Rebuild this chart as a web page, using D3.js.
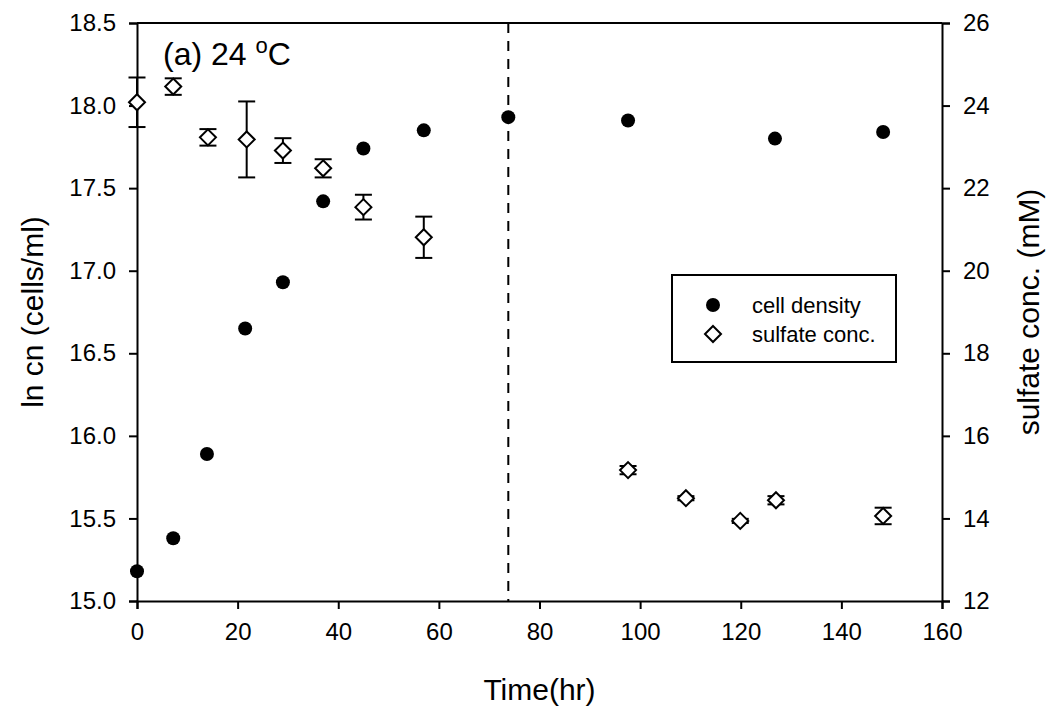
<!DOCTYPE html>
<html>
<head>
<meta charset="utf-8">
<script src="https://cdn.jsdelivr.net/npm/d3@7"></script>
<style>
  body { margin: 0; background: #fff; }
  text { font-family: Arial, "Liberation Sans", sans-serif; fill: #000; }
</style>
</head>
<body>
<div id="chart"></div>
<script>
// cell density (left axis, ln cn)
const cellTime = [0, 7.2, 13.9, 21.5, 29, 37, 45, 57, 73.8, 97.6, 126.8, 148.3];
const cellDensity = [15.18, 15.38, 15.89, 16.65, 16.93, 17.42, 17.74, 17.85, 17.93, 17.91, 17.80, 17.84];

// sulfate concentration (right axis, mM)
const sulfateTime = [0, 7.2, 14.1, 21.8, 29, 37, 45, 57, 97.6, 109.1, 119.9, 127.0, 148.3];
const sulfate = [24.08, 24.46, 23.23, 23.18, 22.91, 22.48, 21.54, 20.81, 15.17, 14.49, 13.94, 14.44, 14.06];
const sulfateErr = [0.6, 0.2, 0.2, 0.92, 0.3, 0.22, 0.3, 0.5, 0.1, 0.05, 0.05, 0.1, 0.2];

const xTicks = [0, 20, 40, 60, 80, 100, 120, 140, 160];
const leftTicks = [15.0, 15.5, 16.0, 16.5, 17.0, 17.5, 18.0, 18.5];
const rightTicks = [12, 14, 16, 18, 20, 22, 24, 26];
const dividerTime = 73.8;

const width = 1054, height = 713;
const margin = { top: 23, right: 112, bottom: 112, left: 137 };

const svg = d3.select("#chart").append("svg")
    .attr("width", width)
    .attr("height", height);

const x = d3.scaleLinear().domain([0, 160]).range([margin.left, width - margin.right]);
const yL = d3.scaleLinear().domain([15, 18.5]).range([height - margin.bottom, margin.top]);
const yR = d3.scaleLinear().domain([12, 26]).range([height - margin.bottom, margin.top]);

// top frame line
svg.append("line")
    .attr("x1", x(0)).attr("x2", x(160))
    .attr("y1", yL(18.5)).attr("y2", yL(18.5))
    .attr("stroke", "#000").attr("stroke-width", 2);

// axes
const xAxis = svg.append("g")
    .attr("transform", `translate(0,${height - margin.bottom})`)
    .call(d3.axisBottom(x).tickValues(xTicks).tickSize(8).tickPadding(14));

const leftAxis = svg.append("g")
    .attr("transform", `translate(${margin.left},0)`)
    .call(d3.axisLeft(yL).tickValues(leftTicks).tickFormat(d3.format(".1f")).tickSize(8).tickPadding(13));

const rightAxis = svg.append("g")
    .attr("transform", `translate(${width - margin.right},0)`)
    .call(d3.axisRight(yR).tickValues(rightTicks).tickSize(8).tickPadding(13));

[xAxis, leftAxis, rightAxis].forEach(g => {
  g.select(".domain").attr("stroke-width", 2);
  g.selectAll(".tick line").attr("stroke-width", 2);
  g.selectAll("text")
      .style("font-family", "Arial, 'Liberation Sans', sans-serif")
      .style("font-size", "24px")
      .attr("fill", "#000");
});

// axis titles
svg.append("text")
    .attr("x", (x(0) + x(160)) / 2)
    .attr("y", 700)
    .attr("text-anchor", "middle")
    .style("font-size", "30px")
    .text("Time(hr)");

svg.append("text")
    .attr("transform", `translate(43,${(yL(15) + yL(18.5)) / 2}) rotate(-90)`)
    .attr("text-anchor", "middle")
    .style("font-size", "30px")
    .text("ln cn (cells/ml)");

svg.append("text")
    .attr("transform", `translate(1039,${(yL(15) + yL(18.5)) / 2}) rotate(-90)`)
    .attr("text-anchor", "middle")
    .style("font-size", "30px")
    .text("sulfate conc. (mM)");

// panel label
const label = svg.append("text")
    .attr("x", 163)
    .attr("y", 65)
    .style("font-size", "32px");
label.append("tspan").text("(a) 24 ");
label.append("tspan").attr("dy", -12).style("font-size", "22px").text("o");
label.append("tspan").attr("dy", 12).text("C");

// dashed divider
svg.append("line")
    .attr("x1", x(dividerTime)).attr("x2", x(dividerTime))
    .attr("y1", yL(18.5)).attr("y2", yL(15))
    .attr("stroke", "#000").attr("stroke-width", 2)
    .attr("stroke-dasharray", "10,8");

// sulfate error bars
const sulf = sulfate.map((v, i) => ({ t: sulfateTime[i], v, e: sulfateErr[i] }));
const err = svg.append("g").attr("stroke", "#000").attr("stroke-width", 2);
sulf.forEach(d => {
  const y1 = yR(d.v - d.e), y2 = yR(d.v + d.e), cx = x(d.t);
  err.append("line").attr("x1", cx).attr("x2", cx).attr("y1", y1).attr("y2", y2);
  err.append("line").attr("x1", cx - 8.5).attr("x2", cx + 8.5).attr("y1", y1).attr("y2", y1);
  err.append("line").attr("x1", cx - 8.5).attr("x2", cx + 8.5).attr("y1", y2).attr("y2", y2);
});

// diamonds
const diamond = s => `M0,${-s}L${s},0L0,${s}L${-s},0Z`;
svg.append("g").selectAll("path")
    .data(sulf)
    .enter().append("path")
    .attr("d", diamond(8))
    .attr("transform", d => `translate(${x(d.t)},${yR(d.v)})`)
    .attr("fill", "#fff")
    .attr("stroke", "#000")
    .attr("stroke-width", 2);

// cell density dots
svg.append("g").selectAll("circle")
    .data(cellDensity.map((v, i) => ({ t: cellTime[i], v })))
    .enter().append("circle")
    .attr("cx", d => x(d.t))
    .attr("cy", d => yL(d.v))
    .attr("r", 7)
    .attr("fill", "#000");

// legend
const lg = svg.append("g");
lg.append("rect")
    .attr("x", 672).attr("y", 275)
    .attr("width", 224).attr("height", 87)
    .attr("fill", "#fff").attr("stroke", "#000").attr("stroke-width", 2);
lg.append("circle").attr("cx", 713).attr("cy", 305).attr("r", 7).attr("fill", "#000");
lg.append("path").attr("d", diamond(8)).attr("transform", "translate(713,334)")
    .attr("fill", "#fff").attr("stroke", "#000").attr("stroke-width", 2);
lg.append("text").attr("x", 752).attr("y", 313).style("font-size", "22px").text("cell density");
lg.append("text").attr("x", 752).attr("y", 342).style("font-size", "22px").text("sulfate conc.");
</script>
</body>
</html>
